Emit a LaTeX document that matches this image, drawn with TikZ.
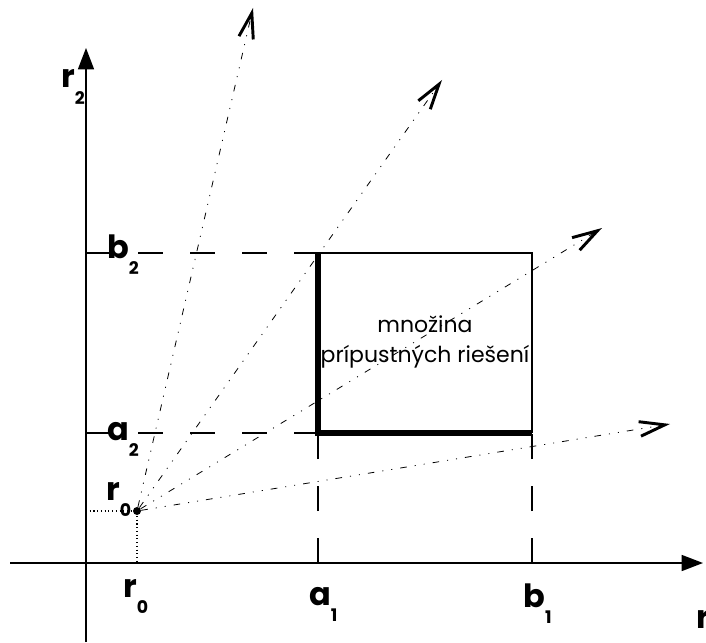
\documentclass[tikz,border=0pt]{standalone}
\usepackage{fontspec}
\setmainfont{Poppins}
\usetikzlibrary{arrows.meta}

% letter with a low subscript, as on the axes
\newcommand{\sublbl}[2]{#1\raisebox{-0.9ex}{\fontsize{13}{13}\selectfont #2}}

\tikzset{
  axis/.style={line width=1.1pt, -{Triangle[length=16pt,width=12pt]}},
  guide/.style={line width=0.8pt, dash pattern=on 19pt off 20pt},
  ray/.style={line width=0.6pt, dash pattern=on 5pt off 6pt on 0.8pt off 6pt on 0.8pt off 6pt,
    -{Straight Barb[length=19pt,width=11pt,line width=2.2pt]}},
  lbl/.style={anchor=base west, inner sep=0pt, font=\fontsize{24}{24}\selectfont\bfseries},
}

\begin{document}
\begin{tikzpicture}[x=0.75pt, y=-0.75pt]
    \useasboundingbox (0,0) rectangle (706,642);

    % Axes
    \coordinate (xl) at (10,563);
    \coordinate (xr) at (703,563);
    \coordinate (yb) at (86,642);
    \coordinate (yt) at (86,48);
    \draw[axis] (xl) -- (xr);
    \draw[axis] (yb) -- (yt);

    % Corners of the box and their projections
    \coordinate (a1a2) at (318,433);
    \coordinate (a1b2) at (318,253);
    \coordinate (b1b2) at (532,253);
    \coordinate (b1a2) at (532,433);
    \coordinate (pb2) at (86,253);
    \coordinate (pa2) at (86,433);
    \coordinate (pa1) at (318,563);
    \coordinate (pb1) at (532,563);

    \draw[guide] (pb2) -- (a1b2);
    \draw[guide] (pa2) -- (a1a2);
    \draw[guide] (pa1) -- (a1a2);
    \draw[guide] (pb1) -- (b1a2);

    \draw[line width=0.8pt] (a1b2) -- (b1b2) -- (b1a2);
    \draw[line width=3.8pt] (a1b2) -- (a1a2) -- (b1a2);

    % Point r0
    \node[circle, fill, inner sep=0pt, minimum size=6pt] (r0) at (137,511) {};
    \coordinate (pr0y) at (86,511);
    \coordinate (pr0x) at (137,563);
    \draw[dotted, line width=0.8pt] (pr0y) -- (r0.center) -- (pr0x);

    % Rays from r0
    \foreach \ex/\ey [count=\i] in {253/8, 442/80, 602/228, 670/424} {
        \coordinate (tip\i) at (\ex,\ey);
        \draw[ray] (r0) -- (tip\i);
    }

    % Feasible set
    \node[align=center, inner sep=0pt,
          font=\fontsize{16.5}{22}\selectfont] (feas) at (425,342)
        {množina\\prípustných riešení};

    % Axis labels
    \node[lbl] (lr2) at (61,88) {\sublbl{r}{2}};
    \node[lbl] (lb2) at (107,258) {\sublbl{b}{2}};
    \node[lbl] (la2) at (107,440) {\sublbl{a}{2}};
    \node[lbl] (lr0y) at (106,500) {\sublbl{r}{0}};
    \node[lbl] (lr0x) at (123,597) {\sublbl{r}{0}};
    \node[lbl] (la1) at (309,605) {\sublbl{a}{1}};
    \node[lbl] (lb1) at (523,607) {\sublbl{b}{1}};
    \node[lbl] (lr1) at (696,628) {\sublbl{r}{1}};
\end{tikzpicture}
\end{document}
